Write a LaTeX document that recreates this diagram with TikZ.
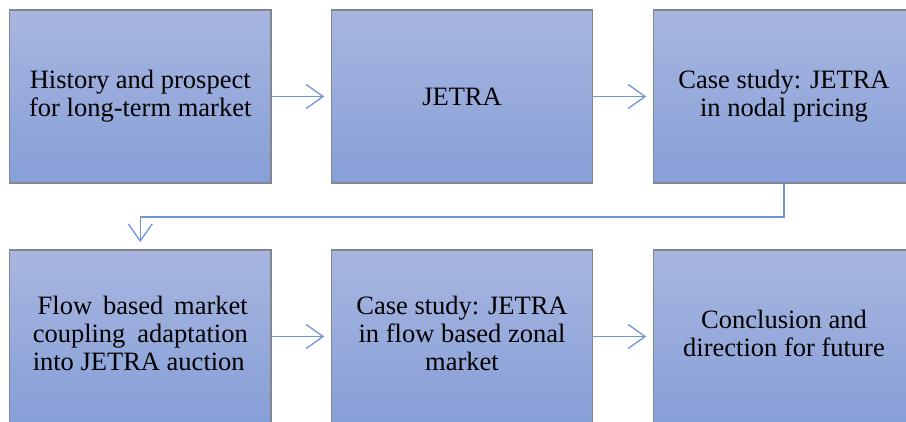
\documentclass[tikz,border=0pt]{standalone}
\usepackage{fontspec}
\setmainfont{Liberation Serif}
\usetikzlibrary{arrows.meta}
\definecolor{boxtop}{RGB}{168,182,224}
\definecolor{boxbot}{RGB}{134,159,215}
\definecolor{boxline}{RGB}{130,134,145}
\definecolor{arrline}{RGB}{112,148,216}
\tikzset{
  box/.style={draw=boxline, line width=1.2pt, top color=boxtop, bottom color=boxbot,
    minimum width=261.5pt, minimum height=173pt, inner sep=0pt, outer sep=0pt,
    font=\fontsize{26.5pt}{28pt}\selectfont, align=center, text=black},
  txt/.style={inner sep=0pt, font=\fontsize{26.5pt}{28pt}\selectfont, align=center, text=black},
  conn/.style={draw=arrline, line width=1.3pt,
    -{Straight Barb[length=17pt, width=24pt, line width=1.3pt]}}
}
\begin{document}
\begin{tikzpicture}[x=1pt, y=-1pt]
\useasboundingbox (0,0) rectangle (906,421);
\clip (0,0) rectangle (906,421);
\node[box] (b1) at (140.25,96.5) {History and prospect\\for long-term market};
\node[box] (b2) at (462,96.5) {JETRA};
\node[box] (b3) at (784,96.5) {Case study: JETRA\\in nodal pricing};
\node[box] (b4) at (140.25,336.5) {};
\node[box] (b5) at (462,336.5) {};
\node[box] (b6) at (784,336.5) {};
\node[txt, align=left] (t4) at ([yshift=3.5pt]b4.center) {\hspace*{5pt}\makebox[210pt][s]{Flow based market}\\\makebox[215pt][s]{coupling adaptation}\\into JETRA auction};
\node[txt] (t5) at ([yshift=3.5pt]b5.center) {Case study: JETRA\\in flow based zonal\\market};
\node[txt] (t6) at ([yshift=3.5pt]b6.center) {Conclusion and\\direction for future};
\coordinate (turn) at (0,217);
\draw[conn, shorten >=7pt] (b1.east) -- (b2.west);
\draw[conn, shorten >=7pt] (b2.east) -- (b3.west);
\draw[conn, shorten >=8pt] (b3.south) -- (b3.south |- turn) -| (b4.north);
\draw[conn, shorten >=7pt] (b4.east) -- (b5.west);
\draw[conn, shorten >=7pt] (b5.east) -- (b6.west);
\end{tikzpicture}
\end{document}
